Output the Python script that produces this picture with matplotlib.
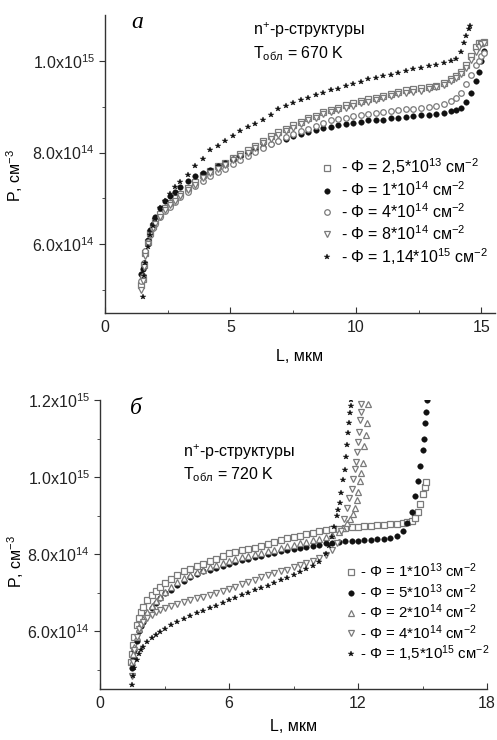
import numpy as np
import matplotlib
matplotlib.use('Agg')
import matplotlib.pyplot as plt

plt.rcParams['font.family'] = ['Liberation Sans', 'DejaVu Sans']
plt.rcParams['mathtext.default'] = 'regular'

# ---- panel a: T = 670 K (values in units of 1e14 cm^-3) ----
x_a = [1.45, 1.5, 1.55, 1.6, 1.7, 1.8, 1.9, 2.0, 2.2, 2.4, 2.6, 2.8, 3.0, 3.3, 3.6, 3.9,
       4.2, 4.5, 4.8, 5.1, 5.4, 5.7, 6.0, 6.3, 6.6, 6.9, 7.2, 7.5, 7.8, 8.1, 8.4, 8.7,
       9.0, 9.3, 9.6, 9.9, 10.2, 10.5, 10.8, 11.1, 11.4, 11.7, 12.0, 12.3, 12.6, 12.9,
       13.2, 13.5, 13.8, 14.0, 14.2, 14.4, 14.6, 14.8, 14.9, 15.0, 15.1]
sq_a = [5.1, 5.25, 5.55, 5.8, 6.05, 6.25, 6.4, 6.5, 6.65, 6.8, 6.9, 7.0, 7.1, 7.22, 7.35,
        7.5, 7.6, 7.7, 7.78, 7.88, 7.97, 8.05, 8.15, 8.25, 8.35, 8.45, 8.52, 8.6, 8.67,
        8.75, 8.8, 8.88, 8.93, 8.98, 9.03, 9.08, 9.12, 9.16, 9.2, 9.24, 9.28, 9.32, 9.36,
        9.38, 9.4, 9.42, 9.45, 9.52, 9.6, 9.66, 9.75, 9.9, 10.1, 10.3, 10.38, 10.4, 10.42]
circ_a = [5.35, 5.45, 5.6, 5.85, 6.1, 6.3, 6.45, 6.6, 6.8, 6.95, 7.05, 7.15, 7.25, 7.38,
          7.48, 7.55, 7.62, 7.7, 7.78, 7.85, 7.92, 7.98, 8.05, 8.12, 8.18, 8.25, 8.3, 8.35,
          8.4, 8.45, 8.5, 8.53, 8.56, 8.6, 8.62, 8.65, 8.67, 8.7, 8.72, 8.72, 8.75, 8.76,
          8.78, 8.8, 8.82, 8.82, 8.85, 8.87, 8.9, 8.93, 8.98, 9.1, 9.3, 9.55, 9.75, 10.0, 10.22]
dia_a = [5.2, 5.3, 5.6, 5.85, 6.05, 6.2, 6.35, 6.45, 6.6, 6.72, 6.82, 6.92, 7.02, 7.15,
         7.27, 7.38, 7.48, 7.57, 7.65, 7.74, 7.83, 7.92, 8.02, 8.1, 8.18, 8.26, 8.33, 8.4,
         8.46, 8.52, 8.58, 8.64, 8.7, 8.73, 8.76, 8.79, 8.82, 8.85, 8.87, 8.88, 8.9, 8.92,
         8.94, 8.96, 8.97, 8.99, 9.02, 9.06, 9.12, 9.18, 9.3, 9.5, 9.7, 9.9, 10.0, 10.1, 10.18]
tri_a = [5.0, 5.2, 5.5, 5.75, 6.0, 6.2, 6.35, 6.45, 6.6, 6.75, 6.85, 6.95, 7.05, 7.18, 7.3,
         7.45, 7.55, 7.65, 7.73, 7.83, 7.92, 8.0, 8.1, 8.2, 8.3, 8.38, 8.46, 8.54, 8.62, 8.7,
         8.76, 8.83, 8.88, 8.93, 8.98, 9.02, 9.07, 9.1, 9.15, 9.19, 9.23, 9.27, 9.3, 9.33,
         9.35, 9.38, 9.42, 9.48, 9.55, 9.62, 9.72, 9.85, 10.02, 10.2, 10.3, 10.36, 10.4]
x_star_a = [1.5, 1.55, 1.6, 1.7, 1.8, 1.9, 2.0, 2.2, 2.4, 2.6, 2.8, 3.0, 3.3, 3.6, 3.9, 4.2,
            4.5, 4.8, 5.1, 5.4, 5.7, 6.0, 6.3, 6.6, 6.9, 7.2, 7.5, 7.8, 8.1, 8.4, 8.7, 9.0,
            9.3, 9.6, 9.9, 10.2, 10.5, 10.8, 11.1, 11.4, 11.7, 12.0, 12.3, 12.6, 12.9, 13.2,
            13.5, 13.8, 14.0, 14.2, 14.3, 14.4, 14.5, 14.55]
star_a = [4.85, 5.3, 5.6, 5.95, 6.2, 6.4, 6.55, 6.8, 6.95, 7.1, 7.25, 7.35, 7.5, 7.7, 7.85,
          8.05, 8.15, 8.25, 8.35, 8.47, 8.55, 8.62, 8.72, 8.82, 8.95, 9.02, 9.08, 9.15, 9.2,
          9.25, 9.3, 9.36, 9.38, 9.45, 9.5, 9.54, 9.6, 9.62, 9.66, 9.7, 9.74, 9.78, 9.82,
          9.85, 9.88, 9.92, 9.96, 10.0, 10.05, 10.2, 10.4, 10.55, 10.7, 10.75]
labels_a = ['- Φ = 2,5*10$^{13}$ см$^{-2}$', '- Φ = 1*10$^{14}$ см$^{-2}$',
            '- Φ = 4*10$^{14}$ см$^{-2}$', '- Φ = 8*10$^{14}$ см$^{-2}$',
            '- Φ = 1,14*10$^{15}$ см$^{-2}$']

# ---- panel б: T = 720 K ----
x_base_b = [1.5, 1.55, 1.6, 1.7, 1.8, 1.9, 2.0, 2.2, 2.4, 2.6, 2.8, 3.0, 3.3, 3.6, 3.9, 4.2,
            4.5, 4.8, 5.1, 5.4, 5.7, 6.0, 6.3, 6.6, 6.9, 7.2, 7.5, 7.8, 8.1, 8.4, 8.7, 9.0,
            9.3, 9.6, 9.9, 10.2, 10.5, 10.8]
x_sq_b = [1.45] + x_base_b + [11.1, 11.4, 11.7, 12.0, 12.3, 12.6, 12.9, 13.2, 13.5, 13.8,
                              14.1, 14.3, 14.5, 14.65, 14.8, 14.9, 15.0, 15.1, 15.15]
sq_b = [5.2, 5.4, 5.65, 5.85, 6.15, 6.35, 6.5, 6.62, 6.8, 6.95, 7.05, 7.15, 7.25, 7.35, 7.45,
        7.55, 7.62, 7.68, 7.75, 7.82, 7.88, 7.95, 8.02, 8.06, 8.1, 8.13, 8.17, 8.22, 8.27,
        8.32, 8.37, 8.42, 8.45, 8.48, 8.52, 8.56, 8.59, 8.62, 8.64,
        8.66, 8.68, 8.7, 8.71, 8.72, 8.74, 8.75, 8.76, 8.77, 8.78,
        8.8, 8.83, 8.85, 8.95, 9.1, 9.3, 9.55, 9.75, 9.88]
x_circ_b = x_base_b + [11.1, 11.4, 11.7, 12.0, 12.3, 12.6, 12.9, 13.2, 13.5, 13.8, 14.1,
                       14.3, 14.5, 14.65, 14.8, 14.9, 15.0, 15.05, 15.1, 15.15, 15.2]
circ_b = [5.05, 5.27, 5.5, 5.75, 6.0, 6.13, 6.25, 6.45, 6.6, 6.72, 6.85, 6.98, 7.08, 7.2,
          7.3, 7.4, 7.48, 7.55, 7.6, 7.65, 7.7, 7.75, 7.8, 7.84, 7.88, 7.92, 7.96, 8.0,
          8.04, 8.07, 8.1, 8.13, 8.16, 8.19, 8.22, 8.25, 8.28, 8.3,
          8.32, 8.33, 8.34, 8.35, 8.36, 8.37, 8.38, 8.4, 8.42, 8.46, 8.6, 8.8, 9.1, 9.5,
          9.9, 10.3, 10.7, 11.0, 11.4, 11.7, 12.0]
x_up_b = x_base_b + [11.1, 11.3, 11.5, 11.65, 11.75, 11.85, 11.95, 12.02, 12.08, 12.15,
                     12.23, 12.3, 12.35, 12.4, 12.46]
up_b = [5.2, 5.4, 5.6, 5.85, 6.05, 6.2, 6.32, 6.5, 6.65, 6.78, 6.9, 7.02, 7.15, 7.27, 7.37,
        7.45, 7.53, 7.6, 7.66, 7.72, 7.77, 7.82, 7.87, 7.92, 7.96, 8.0, 8.04, 8.08, 8.12,
        8.16, 8.2, 8.24, 8.28, 8.32, 8.36, 8.4, 8.44, 8.5,
        8.58, 8.68, 8.8, 8.92, 9.05, 9.2, 9.4, 9.6, 9.9, 10.1, 10.37, 10.8, 11.1, 11.4, 11.9]
x_dn_b = x_base_b + [11.0, 11.2, 11.35, 11.5, 11.6, 11.7, 11.78, 11.85, 11.92, 11.97,
                     12.0, 12.04, 12.08, 12.12, 12.16]
dn_b = [4.84, 5.2, 5.5, 5.85, 6.05, 6.17, 6.25, 6.35, 6.42, 6.5, 6.55, 6.6, 6.65, 6.7, 6.75,
        6.8, 6.85, 6.9, 6.95, 7.0, 7.05, 7.1, 7.15, 7.22, 7.28, 7.34, 7.4, 7.45, 7.5, 7.55,
        7.6, 7.66, 7.72, 7.77, 7.83, 7.9, 7.98, 8.1,
        8.3, 8.6, 8.9, 9.2, 9.45, 9.7, 9.95, 10.2, 10.4, 10.65, 10.9, 11.18, 11.48, 11.7, 11.9]
x_star_b = x_base_b[:-1] + [10.65, 10.8, 10.9, 11.0, 11.08, 11.15, 11.23, 11.31, 11.38,
                            11.46, 11.5, 11.54, 11.58, 11.62, 11.66, 11.69]
star_b = [4.6, 4.85, 5.05, 5.25, 5.42, 5.52, 5.6, 5.72, 5.82, 5.9, 5.98, 6.05, 6.15, 6.24,
          6.32, 6.4, 6.47, 6.53, 6.59, 6.65, 6.72, 6.8, 6.87, 6.93, 7.0, 7.06, 7.12, 7.18,
          7.25, 7.32, 7.39, 7.46, 7.54, 7.62, 7.7, 7.8, 8.0,
          8.2, 8.45, 8.7, 8.98, 9.15, 9.33, 9.59, 9.93, 10.19, 10.53, 10.84, 11.14, 11.4,
          11.66, 11.85, 12.0]
labels_b = ['- Φ = 1*10$^{13}$ см$^{-2}$', '- Φ = 5*10$^{13}$ см$^{-2}$',
            '- Φ = 2*10$^{14}$ см$^{-2}$', '- Φ = 4*10$^{14}$ см$^{-2}$',
            '- Φ = 1,5*10$^{15}$ см$^{-2}$']

yt_a = [6e14, 8e14, 1e15]
yt_a_lbl = ['6.0x10$^{14}$', '8.0x10$^{14}$', '1.0x10$^{15}$']
yt_b = [6e14, 8e14, 1e15, 1.2e15]
yt_b_lbl = ['6.0x10$^{14}$', '8.0x10$^{14}$', '1.0x10$^{15}$', '1.2x10$^{15}$']

W, H = 497, 740
gray = '#7a7a7a'
dark = '#111111'
fs = 11.5


def px(x, y):
    return x / W, 1 - y / H


def style(ax):
    for s in ['top', 'right']:
        ax.spines[s].set_visible(False)
    for s in ['left', 'bottom']:
        ax.spines[s].set_color('#333333')
        ax.spines[s].set_linewidth(1.0)
    ax.tick_params(axis='y', which='major', direction='out', length=4, labelsize=fs, colors='#333333')
    ax.tick_params(axis='y', which='minor', direction='out', length=2.5, colors='#333333')
    ax.tick_params(axis='x', which='major', direction='in', length=4, labelsize=fs, colors='#333333', pad=5)
    ax.tick_params(axis='x', which='minor', direction='in', length=2.5, colors='#333333')
    ax.tick_params(labelcolor='#222222')


def openm(ax, x, y, m, lbl, ms=4):
    ax.plot(x, np.array(y) * 1e14, ls='none', marker=m, ms=ms, mfc='white', mec=gray, mew=0.9, label=lbl)


def filled(ax, x, y, m, lbl, ms=3.5):
    ax.plot(x, np.array(y) * 1e14, ls='none', marker=m, ms=ms, mfc=dark, mec=dark, mew=0.3, label=lbl)


fig = plt.figure(figsize=(4.97, 7.40), dpi=100)

# top panel
ax1 = fig.add_axes([105 / W, 1 - 313 / H, 390 / W, 298 / H])
openm(ax1, x_a, sq_a, 's', labels_a[0], 4)
filled(ax1, x_a, circ_a, 'o', labels_a[1], 4)
openm(ax1, x_a, dia_a, 'o', labels_a[2], 4)
openm(ax1, x_a, tri_a, 'v', labels_a[3], 4)
filled(ax1, x_star_a, star_a, '*', labels_a[4], 4.2)
ax1.set_xlim(0, 15.55)
ax1.set_ylim(4.5e14, 1.1e15)
ax1.set_xticks([0, 5, 10, 15])
ax1.set_xticks([2.5, 7.5, 12.5], minor=True)
ax1.set_yticks(yt_a, yt_a_lbl)
ax1.set_yticks([5e14, 7e14, 9e14], minor=True)
style(ax1)
ax1.set_xlabel('L, мкм', fontsize=fs, labelpad=10)
ax1.set_ylabel('P, см$^{-3}$', fontsize=fs)
ax1.yaxis.set_label_coords(-0.205, 0.46)
ax1.legend(loc='upper left', bbox_to_anchor=(0.553, 0.525), frameon=False, fontsize=fs,
           handlelength=0.8, handletextpad=0.45, labelspacing=0.2, borderpad=0, borderaxespad=0)

# bottom panel
ax2 = fig.add_axes([100 / W, 1 - 689 / H, 387 / W, 289 / H])
openm(ax2, x_sq_b, sq_b, 's', labels_b[0], 4)
filled(ax2, x_circ_b, circ_b, 'o', labels_b[1], 4)
openm(ax2, x_up_b, up_b, '^', labels_b[2], 4.2)
openm(ax2, x_dn_b, dn_b, 'v', labels_b[3], 4.2)
filled(ax2, x_star_b, star_b, '*', labels_b[4], 4.2)
ax2.set_xlim(0, 18)
ax2.set_ylim(4.5e14, 1.2e15)
ax2.set_xticks([0, 6, 12, 18])
ax2.set_xticks([3, 9, 15], minor=True)
ax2.set_yticks(yt_b, yt_b_lbl)
ax2.set_yticks([5e14, 7e14, 9e14, 1.1e15], minor=True)
style(ax2)
ax2.set_xlabel('L, мкм', fontsize=fs, labelpad=6)
ax2.set_ylabel('P, см$^{-3}$', fontsize=fs)
ax2.yaxis.set_label_coords(-0.19, 0.44)
ax2.legend(loc='upper left', bbox_to_anchor=(0.633, 0.44), frameon=False, fontsize=10.8,
           handlelength=0.8, handletextpad=0.2, labelspacing=0.12, borderpad=0, borderaxespad=0)

# panel letters and notes
fig.text(*px(137, 23), 'а', fontsize=17, family='Liberation Serif', style='italic', ha='center', va='center')
fig.text(*px(136, 408), 'б', fontsize=17, family='Liberation Serif', style='italic', ha='center', va='center')
fig.text(*px(253, 30), 'n$^{+}$-p-структуры', fontsize=fs, ha='left', va='center')
fig.text(*px(253, 54), 'T$_{обл}$ = 670 K', fontsize=fs, ha='left', va='center')
fig.text(*px(183, 452), 'n$^{+}$-p-структуры', fontsize=fs, ha='left', va='center')
fig.text(*px(183, 475), 'T$_{обл}$ = 720 K', fontsize=fs, ha='left', va='center')

fig.savefig('out.png', dpi=100)
